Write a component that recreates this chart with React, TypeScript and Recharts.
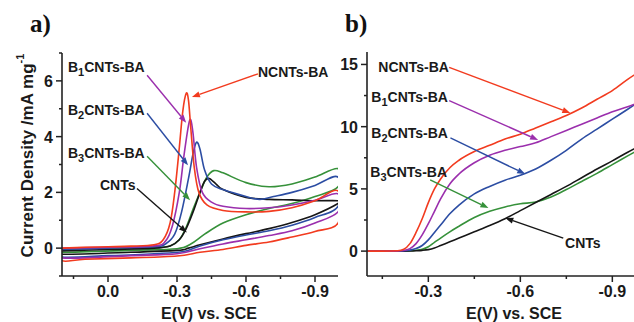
import React from 'react';
import { LineChart, Line, XAxis, YAxis, ReferenceLine, ReferenceDot } from 'recharts';

const FONT = '"Liberation Sans", Arial, sans-serif';
const SERIF = '"Liberation Serif", "Times New Roman", serif';

const C_NCNTS = '#f23b1f';
const C_B1 = '#9b2fad';
const C_B2 = '#2c4da3';
const C_B3 = '#36913a';
const C_CNTS = '#161616';

// ---------- panel a: CV loops (forward 0.2 -> -1.0, then return) ----------
const cvNcntsFwd: number[][] = [[0.2,0.0],[0.1,0.03],[0.0,0.05],[-0.1,0.07],[-0.2,0.12],[-0.24,0.3],[-0.27,0.9],[-0.29,2.0],[-0.31,3.6],[-0.325,4.9],[-0.34,5.55],[-0.35,5.3],[-0.36,4.3],[-0.375,2.9],[-0.395,2.0],[-0.43,1.55],[-0.5,1.35],[-0.6,1.3],[-0.7,1.32],[-0.8,1.45],[-0.9,1.7],[-1.0,2.05]];
const cvNcntsRev: number[][] = [[-1.0,0.9],[-0.9,0.6],[-0.8,0.4],[-0.7,0.22],[-0.6,0.1],[-0.5,-0.05],[-0.4,-0.15],[-0.3,-0.28],[-0.1,-0.35],[0.1,-0.4],[0.2,-0.45]];

const cvB1Fwd: number[][] = [[0.2,0.0],[0.0,0.03],[-0.2,0.08],[-0.25,0.25],[-0.28,0.8],[-0.31,2.0],[-0.33,3.3],[-0.35,4.4],[-0.36,4.6],[-0.37,4.1],[-0.385,2.9],[-0.41,2.0],[-0.45,1.65],[-0.5,1.5],[-0.6,1.42],[-0.7,1.45],[-0.8,1.55],[-0.9,1.72],[-1.0,1.95]];
const cvB1Rev: number[][] = [[-1.0,1.3],[-0.9,0.9],[-0.8,0.62],[-0.7,0.45],[-0.6,0.3],[-0.5,0.15],[-0.4,-0.02],[-0.3,-0.2],[-0.1,-0.27],[0.2,-0.35]];

const cvB2Fwd: number[][] = [[0.2,-0.05],[0.0,0.0],[-0.2,0.05],[-0.25,0.15],[-0.29,0.5],[-0.32,1.3],[-0.35,2.5],[-0.37,3.4],[-0.385,3.8],[-0.4,3.55],[-0.42,2.8],[-0.45,2.3],[-0.5,2.1],[-0.6,1.85],[-0.66,1.75],[-0.72,1.85],[-0.8,2.0],[-0.9,2.25],[-1.0,2.55]];
const cvB2Rev: number[][] = [[-1.0,1.5],[-0.9,1.1],[-0.8,0.82],[-0.7,0.62],[-0.6,0.47],[-0.5,0.3],[-0.4,0.08],[-0.33,-0.12],[-0.2,-0.2],[0.0,-0.27],[0.2,-0.32]];

const cvB3Fwd: number[][] = [[0.2,-0.05],[0.0,0.0],[-0.2,0.02],[-0.27,0.08],[-0.31,0.3],[-0.34,0.75],[-0.37,1.4],[-0.4,2.0],[-0.43,2.55],[-0.46,2.78],[-0.5,2.7],[-0.6,2.35],[-0.7,2.2],[-0.8,2.3],[-0.9,2.55],[-1.0,2.85]];
const cvB3Rev: number[][] = [[-1.0,2.2],[-0.9,1.85],[-0.8,1.6],[-0.7,1.42],[-0.6,1.2],[-0.5,0.9],[-0.42,0.5],[-0.36,0.15],[-0.3,-0.02],[-0.1,-0.08],[0.2,-0.15]];

const cvCntsFwd: number[][] = [[0.2,-0.1],[0.0,-0.05],[-0.2,0.0],[-0.27,0.08],[-0.31,0.3],[-0.34,0.7],[-0.37,1.3],[-0.4,2.0],[-0.42,2.4],[-0.44,2.5],[-0.47,2.3],[-0.5,2.1],[-0.6,1.82],[-0.7,1.75],[-0.8,1.73],[-0.9,1.7],[-1.0,1.7]];
const cvCntsRev: number[][] = [[-1.0,1.6],[-0.9,1.2],[-0.8,0.92],[-0.7,0.7],[-0.6,0.52],[-0.5,0.33],[-0.4,0.12],[-0.35,0.0],[-0.3,-0.08],[-0.1,-0.15],[0.2,-0.22]];

// ---------- panel b: LSV ----------
const lsvX = [-0.1,-0.15,-0.2,-0.22,-0.24,-0.26,-0.28,-0.3,-0.32,-0.34,-0.37,-0.4,-0.45,-0.5,-0.55,-0.6,-0.65,-0.7,-0.75,-0.8,-0.85,-0.9,-0.95,-1.0];
const lsvNcnts = [0,0,0.03,0.15,0.6,1.5,2.6,3.9,5.0,5.8,6.7,7.3,8.0,8.5,9.0,9.4,9.9,10.4,10.9,11.5,12.2,12.9,13.8,14.6];
const lsvB1 = [0,0,0.02,0.05,0.2,0.6,1.3,2.2,3.2,4.2,5.4,6.2,7.1,7.7,8.1,8.4,8.7,9.2,9.7,10.2,10.7,11.2,11.6,12.1];
const lsvB2 = [0,0,0.01,0.03,0.08,0.2,0.45,0.9,1.5,2.1,3.0,3.7,4.6,5.2,5.7,6.1,6.6,7.3,8.1,9.0,9.8,10.6,11.4,12.2];
const lsvB3 = [0,0,0,0.01,0.03,0.07,0.15,0.35,0.7,1.05,1.55,2.0,2.7,3.2,3.55,3.8,3.95,4.35,4.95,5.6,6.25,6.95,7.65,8.35];
const lsvCnts = [0,0,0,0,0.01,0.03,0.06,0.12,0.25,0.45,0.75,1.05,1.55,2.05,2.6,3.25,3.9,4.55,5.2,5.9,6.6,7.25,7.95,8.6];

// ---------- axes ----------
const aXTicks = [0.15, 0, -0.15, -0.3, -0.45, -0.6, -0.75, -0.9];
const aXMajor = [0, -0.3, -0.6, -0.9];
const aYTicks = [-1, 0, 1, 2, 3, 4, 5, 6, 7];
const aYMajor = [0, 2, 4, 6];
const bXTicks = [-0.15, -0.3, -0.45, -0.6, -0.75, -0.9];
const bXMajor = [-0.3, -0.6, -0.9];
const bYTicks = [0, 2.5, 5, 7.5, 10, 12.5, 15];
const bYMajor = [0, 5, 10, 15];

// ---------- annotations (data coordinates) ----------
type Note = { pre: string; sub?: string; post?: string; tx: number; ty: number; x1: number; y1: number; x2: number; y2: number; color: string };
const aNotes: Note[] = [
  { pre: 'B', sub: '1', post: 'CNTs-BA', tx: 0.174, ty: 6.5, x1: -0.17, y1: 6.2, x2: -0.34, y2: 4.5, color: C_B1 },
  { pre: 'B', sub: '2', post: 'CNTs-BA', tx: 0.174, ty: 4.95, x1: -0.17, y1: 4.84, x2: -0.348, y2: 2.97, color: C_B2 },
  { pre: 'B', sub: '3', post: 'CNTs-BA', tx: 0.174, ty: 3.4, x1: -0.17, y1: 3.3, x2: -0.357, y2: 1.72, color: C_B3 },
  { pre: 'CNTs', tx: 0.035, ty: 2.26, x1: -0.126, y1: 2.14, x2: -0.343, y2: 0.56, color: C_CNTS },
  { pre: 'NCNTs-BA', tx: -0.652, ty: 6.32, x1: -0.652, y1: 6.25, x2: -0.365, y2: 5.42, color: C_NCNTS },
];
const bNotes: Note[] = [
  { pre: 'NCNTs-BA', tx: -0.137, ty: 14.8, x1: -0.368, y1: 14.76, x2: -0.763, y2: 11.1, color: C_NCNTS },
  { pre: 'B', sub: '1', post: 'CNTs-BA', tx: -0.114, ty: 12.4, x1: -0.368, y1: 12.1, x2: -0.658, y2: 8.93, color: C_B1 },
  { pre: 'B', sub: '2', post: 'CNTs-BA', tx: -0.114, ty: 9.5, x1: -0.372, y1: 9.09, x2: -0.616, y2: 6.2, color: C_B2 },
  { pre: 'B', sub: '3', post: 'CNTs-BA', tx: -0.111, ty: 6.36, x1: -0.306, y1: 5.72, x2: -0.496, y2: 3.46, color: C_B3 },
  { pre: 'CNTs', tx: -0.746, ty: 0.65, x1: -0.74, y1: 1.05, x2: -0.551, y2: 2.66, color: C_CNTS },
];

// Catmull-Rom curve factory (passes through points, handles loops)
const catmullRom = (context: any) => {
  let pts: number[][] = [];
  return {
    areaStart() {},
    areaEnd() {},
    lineStart() { pts = []; },
    lineEnd() {
      const n = pts.length;
      if (!n) return;
      context.moveTo(pts[0][0], pts[0][1]);
      const t = 1 / 6;
      for (let i = 0; i < n - 1; i++) {
        const p0 = pts[i - 1] || pts[i];
        const p1 = pts[i];
        const p2 = pts[i + 1];
        const p3 = pts[i + 2] || p2;
        context.bezierCurveTo(
          p1[0] + (p2[0] - p0[0]) * t, p1[1] + (p2[1] - p0[1]) * t,
          p2[0] - (p3[0] - p1[0]) * t, p2[1] - (p3[1] - p1[1]) * t,
          p2[0], p2[1]
        );
      }
    },
    point(x: number, y: number) { pts.push([+x, +y]); },
  };
};

const loop = (fwd: number[][], rev: number[][]) =>
  [...fwd, ...rev, fwd[0]].map(([x, y]) => ({ x, y }));

const cvSeries = [
  { name: 'B3CNTs-BA', data: loop(cvB3Fwd, cvB3Rev), color: C_B3 },
  { name: 'CNTs', data: loop(cvCntsFwd, cvCntsRev), color: C_CNTS },
  { name: 'B2CNTs-BA', data: loop(cvB2Fwd, cvB2Rev), color: C_B2 },
  { name: 'B1CNTs-BA', data: loop(cvB1Fwd, cvB1Rev), color: C_B1 },
  { name: 'NCNTs-BA', data: loop(cvNcntsFwd, cvNcntsRev), color: C_NCNTS },
];

const lsvData = lsvX.map((x, i) => ({ x, ncnts: lsvNcnts[i], b1: lsvB1[i], b2: lsvB2[i], b3: lsvB3[i], cnts: lsvCnts[i] }));

const TS = 6;
const TM = 2;
const isMajor = (list: number[], v: number) => list.some((m) => Math.abs(m - v) < 1e-6);
const fmtX = (v: number) => (Math.abs(v) < 1e-9 ? '0.0' : v.toFixed(1));

const makeXTick = (majors: number[]) => (props: any) => {
  const { x, y, payload } = props;
  const v = payload.value;
  const major = isMajor(majors, v);
  const ay = y - TS - TM;
  return (
    <g>
      <line x1={x} x2={x} y1={ay} y2={ay + (major ? 6 : 3)} stroke="#222" strokeWidth={1.5} />
      {major && (
        <text x={x} y={ay + 21} textAnchor="middle" fontFamily={FONT} fontWeight="bold" fontSize={16} fill="#1a1a1a">
          {fmtX(v)}
        </text>
      )}
    </g>
  );
};

const makeYTick = (majors: number[]) => (props: any) => {
  const { x, y, payload } = props;
  const v = payload.value;
  const major = isMajor(majors, v);
  const ax = x + TS + TM;
  return (
    <g>
      <line x1={ax} x2={ax - (major ? 6 : 3)} y1={y} y2={y} stroke="#222" strokeWidth={1.5} />
      {major && (
        <text x={ax - 9} y={y + 6} textAnchor="end" fontFamily={FONT} fontWeight="bold" fontSize={16} fill="#1a1a1a">
          {String(v)}
        </text>
      )}
    </g>
  );
};

const arrowShape = (color: string) => (p: any) => {
  const { x1, y1, x2, y2 } = p;
  const ang = Math.atan2(y2 - y1, x2 - x1);
  const L = 8;
  const W = 3;
  const bx = x2 - L * Math.cos(ang);
  const by = y2 - L * Math.sin(ang);
  const px = -Math.sin(ang) * W;
  const py = Math.cos(ang) * W;
  return (
    <g>
      <line x1={x1} y1={y1} x2={bx} y2={by} stroke={color} strokeWidth={1.4} />
      <polygon points={`${x2},${y2} ${bx + px},${by + py} ${bx - px},${by - py}`} fill={color} />
    </g>
  );
};

const labelShape = (n: Note) => (p: any) => (
  <text x={p.cx} y={p.cy + 5} fontFamily={FONT} fontWeight="bold" fontSize={14} fill="#1a1a1a">
    {n.pre}
    {n.sub && (
      <tspan fontSize={11} dy={4}>
        {n.sub}
      </tspan>
    )}
    {n.post && <tspan dy={n.sub ? -4 : 0}>{n.post}</tspan>}
  </text>
);

const renderNotes = (notes: Note[]) =>
  notes.flatMap((n, i) => [
    <ReferenceLine
      key={`l${i}`}
      segment={[{ x: n.x1, y: n.y1 }, { x: n.x2, y: n.y2 }]}
      stroke={n.color}
      shape={arrowShape(n.color)}
      ifOverflow="visible"
    />,
    <ReferenceDot key={`d${i}`} x={n.tx} y={n.ty} r={0} shape={labelShape(n)} ifOverflow="visible" />,
  ]);

const YLabelA = (props: any) => {
  const vb = props.viewBox || {};
  const cx = 27;
  const cy = (vb.y ?? 53) + (vb.height ?? 223) / 2 - 9;
  return (
    <text
      x={cx}
      y={cy}
      transform={`rotate(-90 ${cx} ${cy})`}
      textAnchor="middle"
      dominantBaseline="central"
      fontFamily={FONT}
      fontWeight="bold"
      fontSize={17}
      fill="#1a1a1a"
    >
      Current Density /mA mg
      <tspan fontSize={11} dy={-7}>-1</tspan>
    </text>
  );
};

const XLabel = (props: any) => {
  const vb = props.viewBox || {};
  const cx = (vb.x ?? 0) + (vb.width ?? 0) / 2 + 9;
  return (
    <text x={cx} y={319} textAnchor="middle" fontFamily={FONT} fontWeight="bold" fontSize={16} fill="#1a1a1a">
      E(V) vs. SCE
    </text>
  );
};

const axisLine = { stroke: '#222', strokeWidth: 1.6 };

export default function App() {
  return (
    <div style={{ position: 'absolute', left: 0, top: 0, width: 634, height: 322, overflow: 'hidden', background: '#fff' }}>
      <div style={{ position: 'absolute', left: 0, top: 0 }}>
        <LineChart width={345} height={322} margin={{ top: 53, right: 7, left: 0, bottom: 0 }}>
          <XAxis
            type="number"
            dataKey="x"
            domain={[-1.0, 0.2]}
            reversed
            allowDataOverflow
            ticks={aXTicks}
            interval={0}
            height={46}
            tickSize={TS}
            tickMargin={TM}
            tickLine={false}
            axisLine={axisLine}
            tick={makeXTick(aXMajor)}
            label={<XLabel />}
          />
          <YAxis
            type="number"
            domain={[-1, 7]}
            allowDataOverflow
            ticks={aYTicks}
            interval={0}
            width={62}
            tickSize={TS}
            tickMargin={TM}
            tickLine={false}
            axisLine={axisLine}
            tick={makeYTick(aYMajor)}
            label={<YLabelA />}
          />
          {cvSeries.map((s) => (
            <Line
              key={s.name}
              name={s.name}
              data={s.data}
              dataKey="y"
              type={catmullRom as any}
              stroke={s.color}
              strokeWidth={1.6}
              dot={false}
              activeDot={false}
              isAnimationActive={false}
            />
          ))}
          {renderNotes(aNotes)}
        </LineChart>
      </div>
      <div style={{ position: 'absolute', left: 300, top: 0 }}>
        <LineChart width={348} height={322} data={lsvData} margin={{ top: 52, right: 5, left: 0, bottom: 0 }}>
          <XAxis
            type="number"
            dataKey="x"
            domain={[-1.0, -0.1]}
            reversed
            allowDataOverflow
            ticks={bXTicks}
            interval={0}
            height={46}
            tickSize={TS}
            tickMargin={TM}
            tickLine={false}
            axisLine={axisLine}
            tick={makeXTick(bXMajor)}
            label={<XLabel />}
          />
          <YAxis
            type="number"
            domain={[-2, 16]}
            allowDataOverflow
            ticks={bYTicks}
            interval={0}
            width={67}
            tickSize={TS}
            tickMargin={TM}
            tickLine={false}
            axisLine={axisLine}
            tick={makeYTick(bYMajor)}
          />
          <Line dataKey="b3" type="monotone" stroke={C_B3} strokeWidth={1.6} dot={false} activeDot={false} isAnimationActive={false} />
          <Line dataKey="cnts" type="monotone" stroke={C_CNTS} strokeWidth={1.6} dot={false} activeDot={false} isAnimationActive={false} />
          <Line dataKey="b2" type="monotone" stroke={C_B2} strokeWidth={1.6} dot={false} activeDot={false} isAnimationActive={false} />
          <Line dataKey="b1" type="monotone" stroke={C_B1} strokeWidth={1.6} dot={false} activeDot={false} isAnimationActive={false} />
          <Line dataKey="ncnts" type="monotone" stroke={C_NCNTS} strokeWidth={1.6} dot={false} activeDot={false} isAnimationActive={false} />
          {renderNotes(bNotes)}
        </LineChart>
      </div>
      <svg width={634} height={322} style={{ position: 'absolute', left: 0, top: 0, pointerEvents: 'none' }}>
        <text x={30} y={32} fontFamily={SERIF} fontWeight="bold" fontSize={25} fill="#111">a)</text>
        <text x={345} y={32} fontFamily={SERIF} fontWeight="bold" fontSize={25} fill="#111">b)</text>
      </svg>
    </div>
  );
}
